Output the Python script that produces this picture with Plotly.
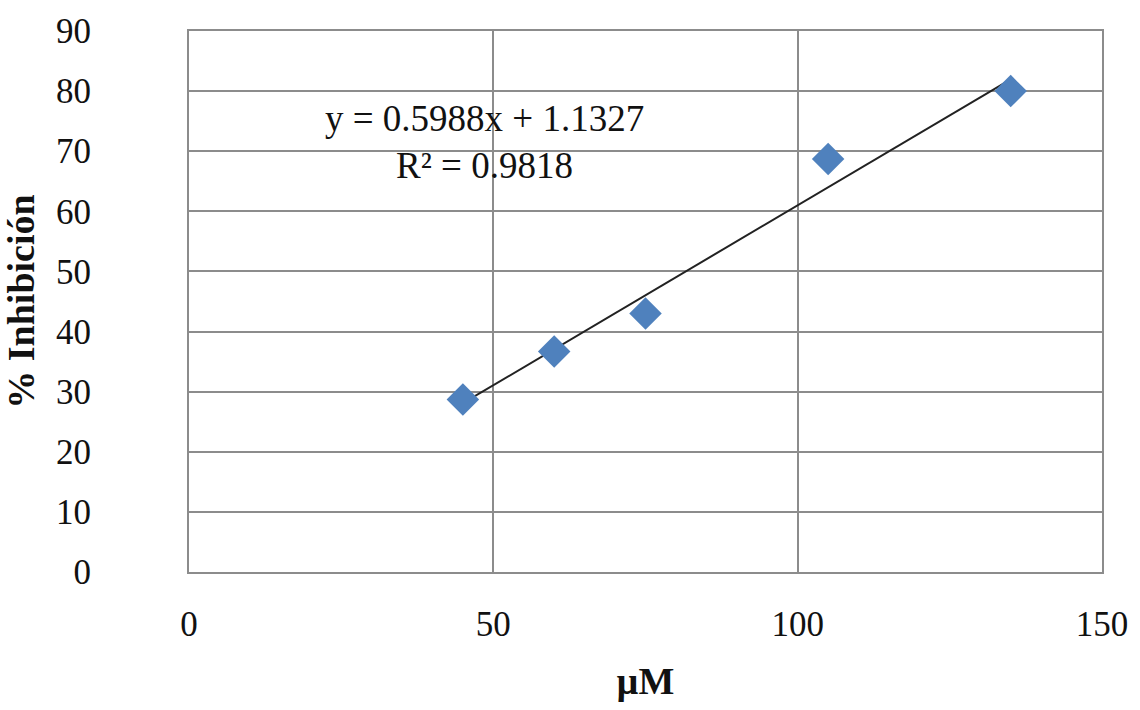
import plotly.graph_objects as go

# Concentration (µM) vs. % inhibition
conc_um = [45, 60, 75, 105, 135]
inhibition_pct = [28.7, 36.7, 43.0, 68.7, 80.0]

# Linear fit reported for the series
slope = 0.5988
intercept = 1.1327
r_squared = 0.9818

fit_x = [min(conc_um), max(conc_um)]
fit_y = [slope * x + intercept for x in fit_x]

x_ticks = [0, 50, 100, 150]
y_ticks = [0, 10, 20, 30, 40, 50, 60, 70, 80, 90]

serif = "Liberation Serif, Times New Roman, serif"
grid_col = "#8c8c8c"

fig = go.Figure()
fig.add_trace(go.Scatter(
    x=fit_x, y=fit_y, mode="lines",
    line=dict(color="#222222", width=2),
    hoverinfo="skip", showlegend=False,
))
fig.add_trace(go.Scatter(
    x=conc_um, y=inhibition_pct, mode="markers",
    marker=dict(symbol="diamond", size=25, color="#4f81bd"),
    showlegend=False,
))

fig.add_annotation(
    x=48.6, y=75.4, xref="x", yref="y", showarrow=False,
    text=f"y = {slope}x + {intercept}",
    font=dict(family=serif, size=37, color="#111111"),
)
fig.add_annotation(
    x=48.6, y=67.6, xref="x", yref="y", showarrow=False,
    text=f"R² = {r_squared}",
    font=dict(family=serif, size=37, color="#111111"),
)

fig.update_layout(
    width=1140, height=710,
    margin=dict(l=189, r=38, t=27, b=138),
    paper_bgcolor="white", plot_bgcolor="white",
    font=dict(family=serif, size=35, color="#111111"),
    xaxis=dict(
        range=[0, 150], tickvals=x_ticks, ticks="",
        showgrid=True, gridcolor=grid_col, gridwidth=2,
        showline=True, linecolor=grid_col, linewidth=2, mirror=True,
        zeroline=False, ticklabelstandoff=20,
        title=dict(text="<b>µM</b>", font=dict(family=serif, size=38), standoff=24),
    ),
    yaxis=dict(
        range=[0, 90], tickvals=y_ticks, ticks="",
        showgrid=True, gridcolor=grid_col, gridwidth=2,
        showline=True, linecolor=grid_col, linewidth=2, mirror=True,
        zeroline=False, ticklabelstandoff=89,
        title=dict(text="<b>% Inhibición</b>", font=dict(family=serif, size=38), standoff=14),
    ),
)

fig.write_html("out.html")
